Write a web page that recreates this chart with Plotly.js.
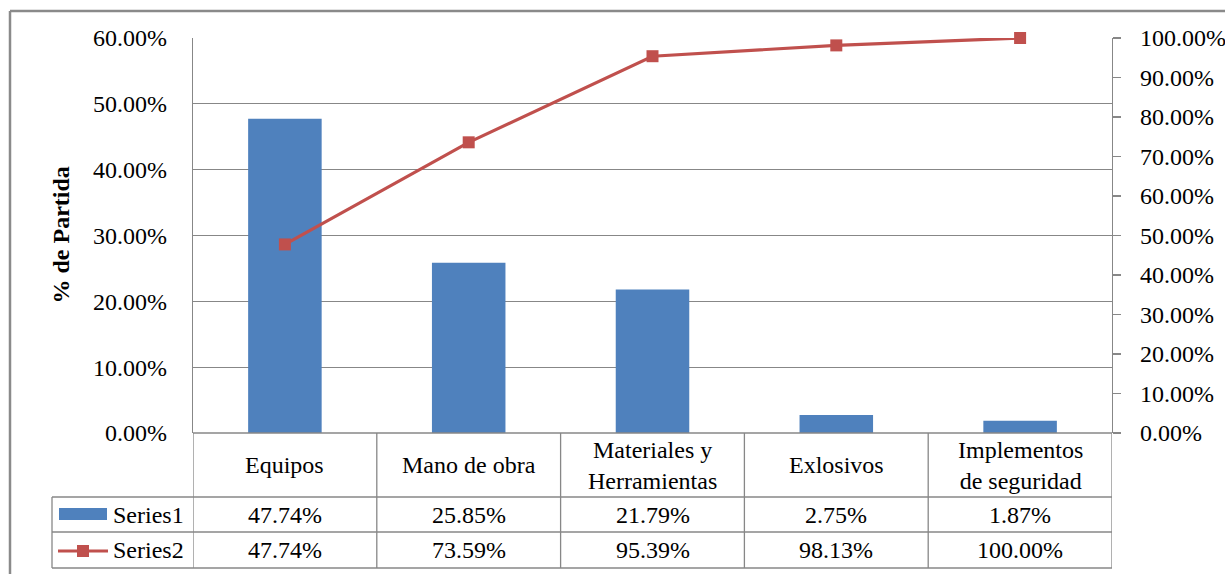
<!DOCTYPE html>
<html>
<head>
<meta charset="utf-8">
<script src="https://cdn.plot.ly/plotly-3.0.1.min.js"></script>
<style>html,body{margin:0;padding:0;background:#fff;}#chart{width:1225px;height:574px;}</style>
</head>
<body>
<div id="chart"></div>
<script>
const categories = ["Equipos", "Mano de obra", "Materiales y Herramientas", "Exlosivos", "Implementos de seguridad"];
const headerLabels = ["Equipos", "Mano de obra", "Materiales y<br>Herramientas", "Exlosivos", "Implementos<br>de seguridad"];
const series1Name = "Series1";
const series2Name = "Series2";
const series1 = [0.4774, 0.2585, 0.2179, 0.0275, 0.0187];
const series2 = [0.4774, 0.7359, 0.9539, 0.9813, 1.0000];
const yTitle = "% de Partida";

// pixel geometry helpers (plot area: x 193..1112, y 38..433)
const W = 1225, H = 574, L = 193, R = 1112, T = 38, B = 433;
const px = x => (x - L) / (R - L);
const py = y => (B - y) / (B - T);

const FONT = "Liberation Serif, Times New Roman, serif";
const GRID = "#878787";
const BLUE = "#4F81BD", RED = "#C0504D";

const traces = [
  {type: "bar", x: categories, y: series1, name: series1Name, marker: {color: BLUE}, hoverinfo: "x+y"},
  {type: "scatter", mode: "lines+markers", x: categories, y: series2, name: series2Name, yaxis: "y2", cliponaxis: false,
   line: {color: RED, width: 3.2}, marker: {symbol: "square", size: 12, color: RED}}
];

const shapes = [];
const annotations = [];
const lineStyle = {color: GRID, width: 1.3};

// outer frame
shapes.push({type: "line", xref: "paper", yref: "paper", x0: px(10), x1: px(W + 5), y0: py(11), y1: py(11), line: {color: "#8a8a8a", width: 2.5}});
shapes.push({type: "line", xref: "paper", yref: "paper", x0: px(10), x1: px(10), y0: py(11), y1: py(H + 5), line: {color: "#8a8a8a", width: 2.5}});

// table rows
const yHead = 497, yRow1 = 532, yRow2 = 568;
shapes.push({type: "line", xref: "paper", yref: "paper", x0: 0, x1: 1, y0: 0, y1: 0, line: lineStyle});
[yHead, yRow1, yRow2].forEach(y => shapes.push({type: "line", xref: "paper", yref: "paper", x0: px(52), x1: 1, y0: py(y), y1: py(y), line: lineStyle}));
shapes.push({type: "line", xref: "paper", yref: "paper", x0: px(52), x1: px(52), y0: py(yHead), y1: py(yRow2), line: lineStyle});
for (let i = 0; i <= categories.length; i++) {
  shapes.push({type: "line", xref: "x", yref: "paper", x0: i - 0.5, x1: i - 0.5, y0: 0, y1: py(yRow2), line: lineStyle});
}

// legend keys in table
shapes.push({type: "rect", xref: "paper", yref: "paper", x0: px(59), x1: px(107), y0: py(508), y1: py(520), fillcolor: BLUE, line: {width: 0}});
shapes.push({type: "line", xref: "paper", yref: "paper", x0: px(58), x1: px(108), y0: py(551), y1: py(551), line: {color: RED, width: 3.2}});
shapes.push({type: "rect", xref: "paper", yref: "paper", x0: px(77), x1: px(89), y0: py(545), y1: py(557), fillcolor: RED, line: {width: 0}});

const tf = {family: FONT, size: 24, color: "#000"};
annotations.push({xref: "paper", yref: "paper", x: px(111), y: py((yHead + yRow1) / 2), xanchor: "left", yanchor: "middle", text: series1Name, showarrow: false, font: tf});
annotations.push({xref: "paper", yref: "paper", x: px(111), y: py((yRow1 + yRow2) / 2), xanchor: "left", yanchor: "middle", text: series2Name, showarrow: false, font: tf});

const fmt = v => (v * 100).toFixed(2) + "%";
categories.forEach((c, i) => {
  annotations.push({xref: "x", yref: "paper", x: c, y: py((B + yHead) / 2), xanchor: "center", yanchor: "middle", text: headerLabels[i], showarrow: false, font: tf});
  annotations.push({xref: "x", yref: "paper", x: c, y: py((yHead + yRow1) / 2), xanchor: "center", yanchor: "middle", text: fmt(series1[i]), showarrow: false, font: tf});
  annotations.push({xref: "x", yref: "paper", x: c, y: py((yRow1 + yRow2) / 2), xanchor: "center", yanchor: "middle", text: fmt(series2[i]), showarrow: false, font: tf});
});

// y axis title
annotations.push({xref: "paper", yref: "paper", x: px(60), y: 0.5, xanchor: "center", yanchor: "middle", textangle: -90, text: "<b>" + yTitle + "</b>", showarrow: false, font: {family: FONT, size: 24, color: "#000"}});

const layout = {
  width: W, height: H,
  margin: {l: L, r: W - R, t: T, b: H - B, pad: 0},
  paper_bgcolor: "#fff", plot_bgcolor: "#fff",
  showlegend: false,
  bargap: 0.6,
  font: {family: FONT, size: 24, color: "#000"},
  xaxis: {type: "category", range: [-0.5, categories.length - 0.5], showticklabels: false, ticks: "", showgrid: false, showline: false, zeroline: false, fixedrange: true},
  yaxis: {range: [0, 0.6], dtick: 0.1, tickformat: ".2%", showgrid: true, gridcolor: GRID, gridwidth: 1.3, zeroline: false,
          showline: true, linecolor: GRID, linewidth: 1.3, ticks: "", ticklabelstandoff: 20, tickfont: tf, fixedrange: true},
  yaxis2: {overlaying: "y", side: "right", range: [0, 1], dtick: 0.1, tickformat: ".2%", showgrid: false, zeroline: false,
           showline: true, linecolor: GRID, linewidth: 1.3, ticks: "outside", ticklen: 8, tickcolor: GRID, tickwidth: 1.3,
           ticklabelstandoff: 14, tickfont: tf, fixedrange: true},
  shapes: shapes,
  annotations: annotations
};

Plotly.newPlot("chart", traces, layout, {staticPlot: true, displayModeBar: false});
</script>
</body>
</html>
